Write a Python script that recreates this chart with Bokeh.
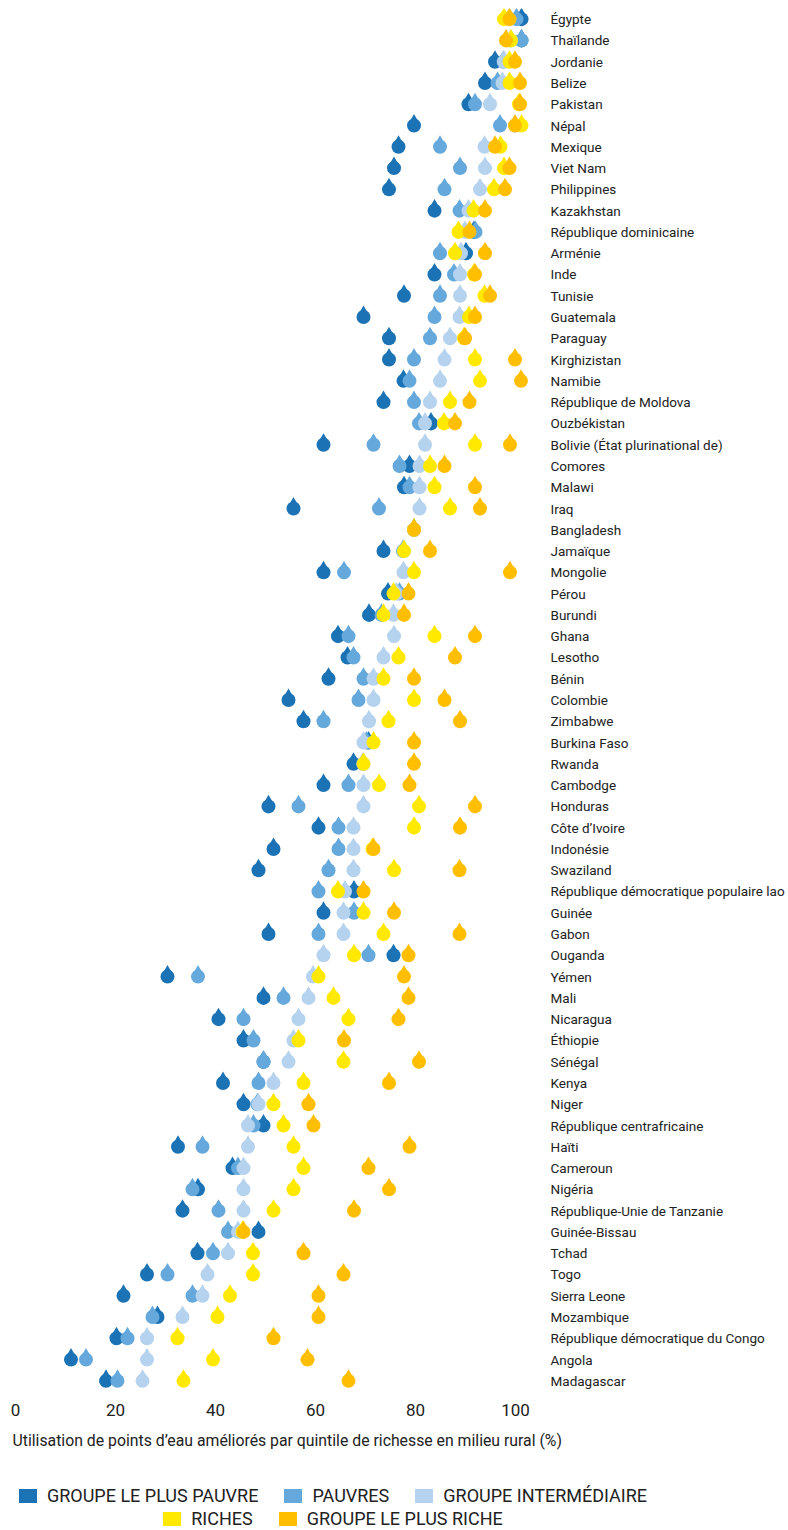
from bokeh.plotting import figure
from bokeh.models import (ColumnDataSource, Range1d, FactorRange, FixedTicker, Title, Div)
from bokeh.transform import dodge
from bokeh.layouts import column
from bokeh.embed import file_html
from bokeh.resources import INLINE

countries = [
    "Égypte", "Thaïlande", "Jordanie", "Belize", "Pakistan", "Népal", "Mexique",
    "Viet Nam", "Philippines", "Kazakhstan", "République dominicaine", "Arménie",
    "Inde", "Tunisie", "Guatemala", "Paraguay", "Kirghizistan", "Namibie",
    "République de Moldova", "Ouzbékistan", "Bolivie (État plurinational de)",
    "Comores", "Malawi", "Iraq", "Bangladesh", "Jamaïque", "Mongolie", "Pérou",
    "Burundi", "Ghana", "Lesotho", "Bénin", "Colombie", "Zimbabwe", "Burkina Faso",
    "Rwanda", "Cambodge", "Honduras", "Côte d’Ivoire", "Indonésie", "Swaziland",
    "République démocratique populaire lao", "Guinée", "Gabon", "Ouganda", "Yémen",
    "Mali", "Nicaragua", "Éthiopie", "Sénégal", "Kenya", "Niger",
    "République centrafricaine", "Haïti", "Cameroun", "Nigéria",
    "République-Unie de Tanzanie", "Guinée-Bissau", "Tchad", "Togo", "Sierra Leone",
    "Mozambique", "République démocratique du Congo", "Angola", "Madagascar",
]

poorest = [100, 100, 94.7, 92.7, 89.4, 78.5, 75.4, 74.5, 73.5, 82.6, 90.5, 88.9,
           82.6, 76.5, 68.4, 73.5, 73.5, 76.4, 72.4, 81.9, 60.4, 77.6, 76.5, 54.4,
           78.5, 72.4, 60.4, 73.3, 69.5, 63.3, 65.2, 61.4, 53.4, 56.4, 69.4, 66.4,
           60.4, 49.4, 59.4, 50.4, 47.4, 66.5, 60.4, 49.4, 74.4, 29.2, 48.4, 39.4,
           44.4, 48.4, 40.3, 44.4, 48.4, 31.3, 42.2, 35.3, 32.2, 47.4, 35.2, 25.1,
           20.4, 27.2, 19.0, 9.9, 16.9]
poor = [99.0, 100, 96.4, 95.2, 90.7, 95.7, 83.7, 87.7, 84.6, 87.6, 90.8, 83.7,
        86.5, 83.7, 82.6, 81.7, 78.5, 77.6, 78.5, 79.5, 70.4, 75.6, 77.6, 71.5,
        78.5, 76.3, 64.5, 75.6, 72.0, 65.4, 66.4, 68.4, 67.4, 60.4, 69.0, 68.3,
        65.4, 55.4, 63.4, 63.4, 61.4, 59.4, 66.5, 59.4, 69.4, 35.3, 52.4, 44.4,
        46.4, 48.4, 47.4, 47.2, 46.4, 36.2, 43.3, 34.2, 39.4, 41.3, 38.3, 29.2,
        34.2, 26.2, 21.2, 12.9, 19.2]
middle = [97.6, 97.9, 96.5, 96.2, 93.7, 98.7, 92.6, 92.7, 91.7, 89.4, 88.7, 87.9,
          87.7, 87.7, 87.6, 85.7, 84.6, 83.7, 81.7, 80.7, 80.7, 79.6, 79.6, 79.6,
          78.5, 76.5, 76.4, 75.0, 74.4, 74.5, 72.4, 70.4, 70.4, 69.5, 68.4, 68.4,
          68.4, 68.4, 66.4, 66.4, 66.4, 64.7, 64.4, 64.4, 60.4, 58.3, 57.4, 55.4,
          54.4, 53.4, 50.4, 47.4, 45.3, 45.3, 44.4, 44.4, 44.4, 43.3, 41.3, 37.2,
          36.2, 32.2, 25.1, 25.1, 24.2]
rich = [96.5, 97.9, 97.6, 97.6, 99.5, 100, 95.8, 96.5, 94.5, 90.4, 87.4, 86.7,
        90.5, 92.6, 89.5, 88.5, 90.7, 91.7, 85.7, 84.5, 90.7, 81.7, 82.6, 85.7,
        78.5, 76.5, 78.5, 74.4, 72.4, 82.6, 75.4, 72.4, 78.5, 73.4, 70.4, 68.4,
        71.5, 79.5, 78.5, 70.2, 74.5, 63.3, 68.4, 72.4, 66.5, 59.4, 62.4, 65.4,
        55.4, 64.4, 56.4, 50.4, 52.4, 54.4, 56.4, 54.4, 50.4, 44.2, 46.3, 46.3,
        41.7, 39.2, 31.2, 38.3, 32.4]
richest = [97.6, 96.9, 98.7, 99.7, 99.7, 98.7, 94.7, 97.6, 96.7, 92.7, 89.6, 92.7,
           90.7, 93.7, 90.7, 88.7, 98.7, 99.9, 89.6, 86.7, 97.7, 84.6, 90.7, 91.7,
           78.5, 81.7, 97.7, 77.4, 76.5, 90.7, 86.7, 78.5, 84.6, 87.7, 78.5, 78.5,
           77.6, 90.7, 87.7, 70.4, 87.6, 68.4, 74.5, 87.6, 77.4, 76.5, 77.4, 75.4,
           64.5, 79.5, 73.5, 57.4, 58.4, 77.6, 69.4, 73.5, 66.5, 44.4, 56.4, 64.4,
           59.4, 59.4, 50.4, 57.2, 65.4]

groups = ["GROUPE LE PLUS PAUVRE", "PAUVRES", "GROUPE INTERMÉDIAIRE", "RICHES",
          "GROUPE LE PLUS RICHE"]
colors = ["#1b72b4", "#65a9dc", "#b5d2ee", "#ffe900", "#ffbf00"]
tick_values = [0, 20, 40, 60, 80, 100]

FONT = "Roboto"
TXT = "#222222"

source = ColumnDataSource(dict(country=countries, poorest=poorest, poor=poor,
                               middle=middle, rich=rich, richest=richest))

p = figure(width=788, height=1465, output_backend="svg", toolbar_location=None,
           x_range=Range1d(0, 107),
           y_range=FactorRange(factors=countries[::-1], range_padding=0),
           y_axis_location="right",
           min_border_left=15, min_border_right=238, min_border_top=8,
           min_border_bottom=74)
p.outline_line_color = None
p.grid.visible = False

fields = ["poorest", "poor", "middle", "rich", "richest"]
for f, c in zip(fields, colors):
    xs = dodge(f, 1.2, range=p.x_range)
    p.scatter(x=xs, y=dodge("country", 0.27, range=p.y_range), source=source,
              marker="triangle", size=10, fill_color=c, line_color=None)
    p.scatter(x=xs, y="country", source=source, marker="circle", size=14,
              fill_color=c, line_color=None)

p.xaxis.ticker = FixedTicker(ticks=tick_values)
p.xaxis.axis_line_color = None
p.xaxis.major_tick_line_color = None
p.xaxis.minor_tick_line_color = None
p.xaxis.major_tick_out = 0
p.xaxis.major_label_standoff = 12
p.xaxis.major_label_text_font = FONT
p.xaxis.major_label_text_font_size = "17px"
p.xaxis.major_label_text_color = TXT

p.yaxis.axis_line_color = None
p.yaxis.major_tick_line_color = None
p.yaxis.major_tick_out = 0
p.yaxis.major_label_standoff = 0
p.yaxis.major_label_text_font = FONT
p.yaxis.major_label_text_font_size = "13.5px"
p.yaxis.major_label_text_color = TXT

p.add_layout(Title(text="Utilisation de points d’eau améliorés par quintile de richesse en milieu rural (%)",
                   align="left", text_font=FONT, text_font_size="15.8px",
                   text_font_style="normal", text_color=TXT, offset=-3, standoff=20),
             "below")


# legend (HTML, two centred rows)
def item(i, first):
    gap = "0" if first else "26px"
    return ('<span style="display:inline-block;white-space:nowrap;margin-left:%s">'
            '<span style="display:inline-block;width:18px;height:14px;background:%s;'
            'vertical-align:-1px;margin-right:10px"></span>%s</span>') % (gap, colors[i], groups[i])


rows_html = []
for idx in ([0, 1, 2], [3, 4]):
    rows_html.append('<div style="white-space:nowrap;height:23px;line-height:23px">'
                     + "".join(item(i, k == 0) for k, i in enumerate(idx)) + "</div>")

legend_div = Div(text="".join(rows_html), width=656, height=60,
                 styles={"font-family": FONT, "font-size": "18px", "color": TXT,
                         "text-align": "center", "padding-top": "14px"})

open("out.html", "w").write(file_html(column(p, legend_div, spacing=0), INLINE))
